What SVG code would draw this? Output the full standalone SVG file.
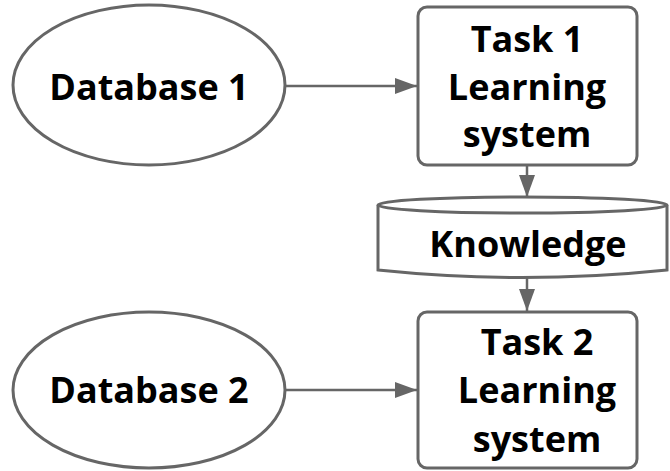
<svg xmlns="http://www.w3.org/2000/svg" width="670" height="471" viewBox="0 0 670 471">
  <defs>
    <marker id="arrow" markerUnits="userSpaceOnUse" markerWidth="22" markerHeight="16" refX="22" refY="8" orient="auto">
      <path d="M0,0 L22,8 L0,16 Z" fill="#666"/>
    </marker>
  </defs>
  <style>
    .shape { fill: #fff; stroke: #666; stroke-width: 3; }
    .edge { fill: none; stroke: #666; stroke-width: 2.5; }
    .label { font-family: "Open Sans", "Liberation Sans", sans-serif; font-weight: bold; font-size: 36px; fill: #000; text-anchor: middle; }
  </style>
  <rect width="670" height="471" fill="#fff"/>

  <g id="connectors">
    <line class="edge" x1="286" y1="86" x2="417" y2="86" marker-end="url(#arrow)"/>
    <line class="edge" x1="527" y1="166" x2="527" y2="197" marker-end="url(#arrow)"/>
    <line class="edge" x1="527" y1="278" x2="527" y2="311" marker-end="url(#arrow)"/>
    <line class="edge" x1="286" y1="390" x2="417" y2="390" marker-end="url(#arrow)"/>
  </g>

  <g id="database1">
    <ellipse class="shape" cx="149" cy="85" rx="136" ry="80"/>
    <text class="label" x="149" y="100">Database 1</text>
  </g>

  <g id="task1">
    <rect class="shape" x="418" y="7" width="219" height="158" rx="9"/>
    <text class="label" x="527" y="52">Task 1</text>
    <text class="label" x="527" y="100">Learning</text>
    <text class="label" x="527" y="147">system</text>
  </g>

  <g id="knowledge">
    <path class="shape" d="M378,205 L378,270 Q522,285 667,270 L667,205"/>
    <ellipse class="shape" cx="522.5" cy="205" rx="144.5" ry="8"/>
    <text class="label" x="528" y="257">Knowledge</text>
  </g>

  <g id="database2">
    <ellipse class="shape" cx="149" cy="390" rx="136" ry="78"/>
    <text class="label" x="149" y="403">Database 2</text>
  </g>

  <g id="task2">
    <rect class="shape" x="418" y="312" width="219" height="156" rx="9"/>
    <text class="label" x="537" y="355">Task 2</text>
    <text class="label" x="537" y="403">Learning</text>
    <text class="label" x="537" y="452">system</text>
  </g>
</svg>
